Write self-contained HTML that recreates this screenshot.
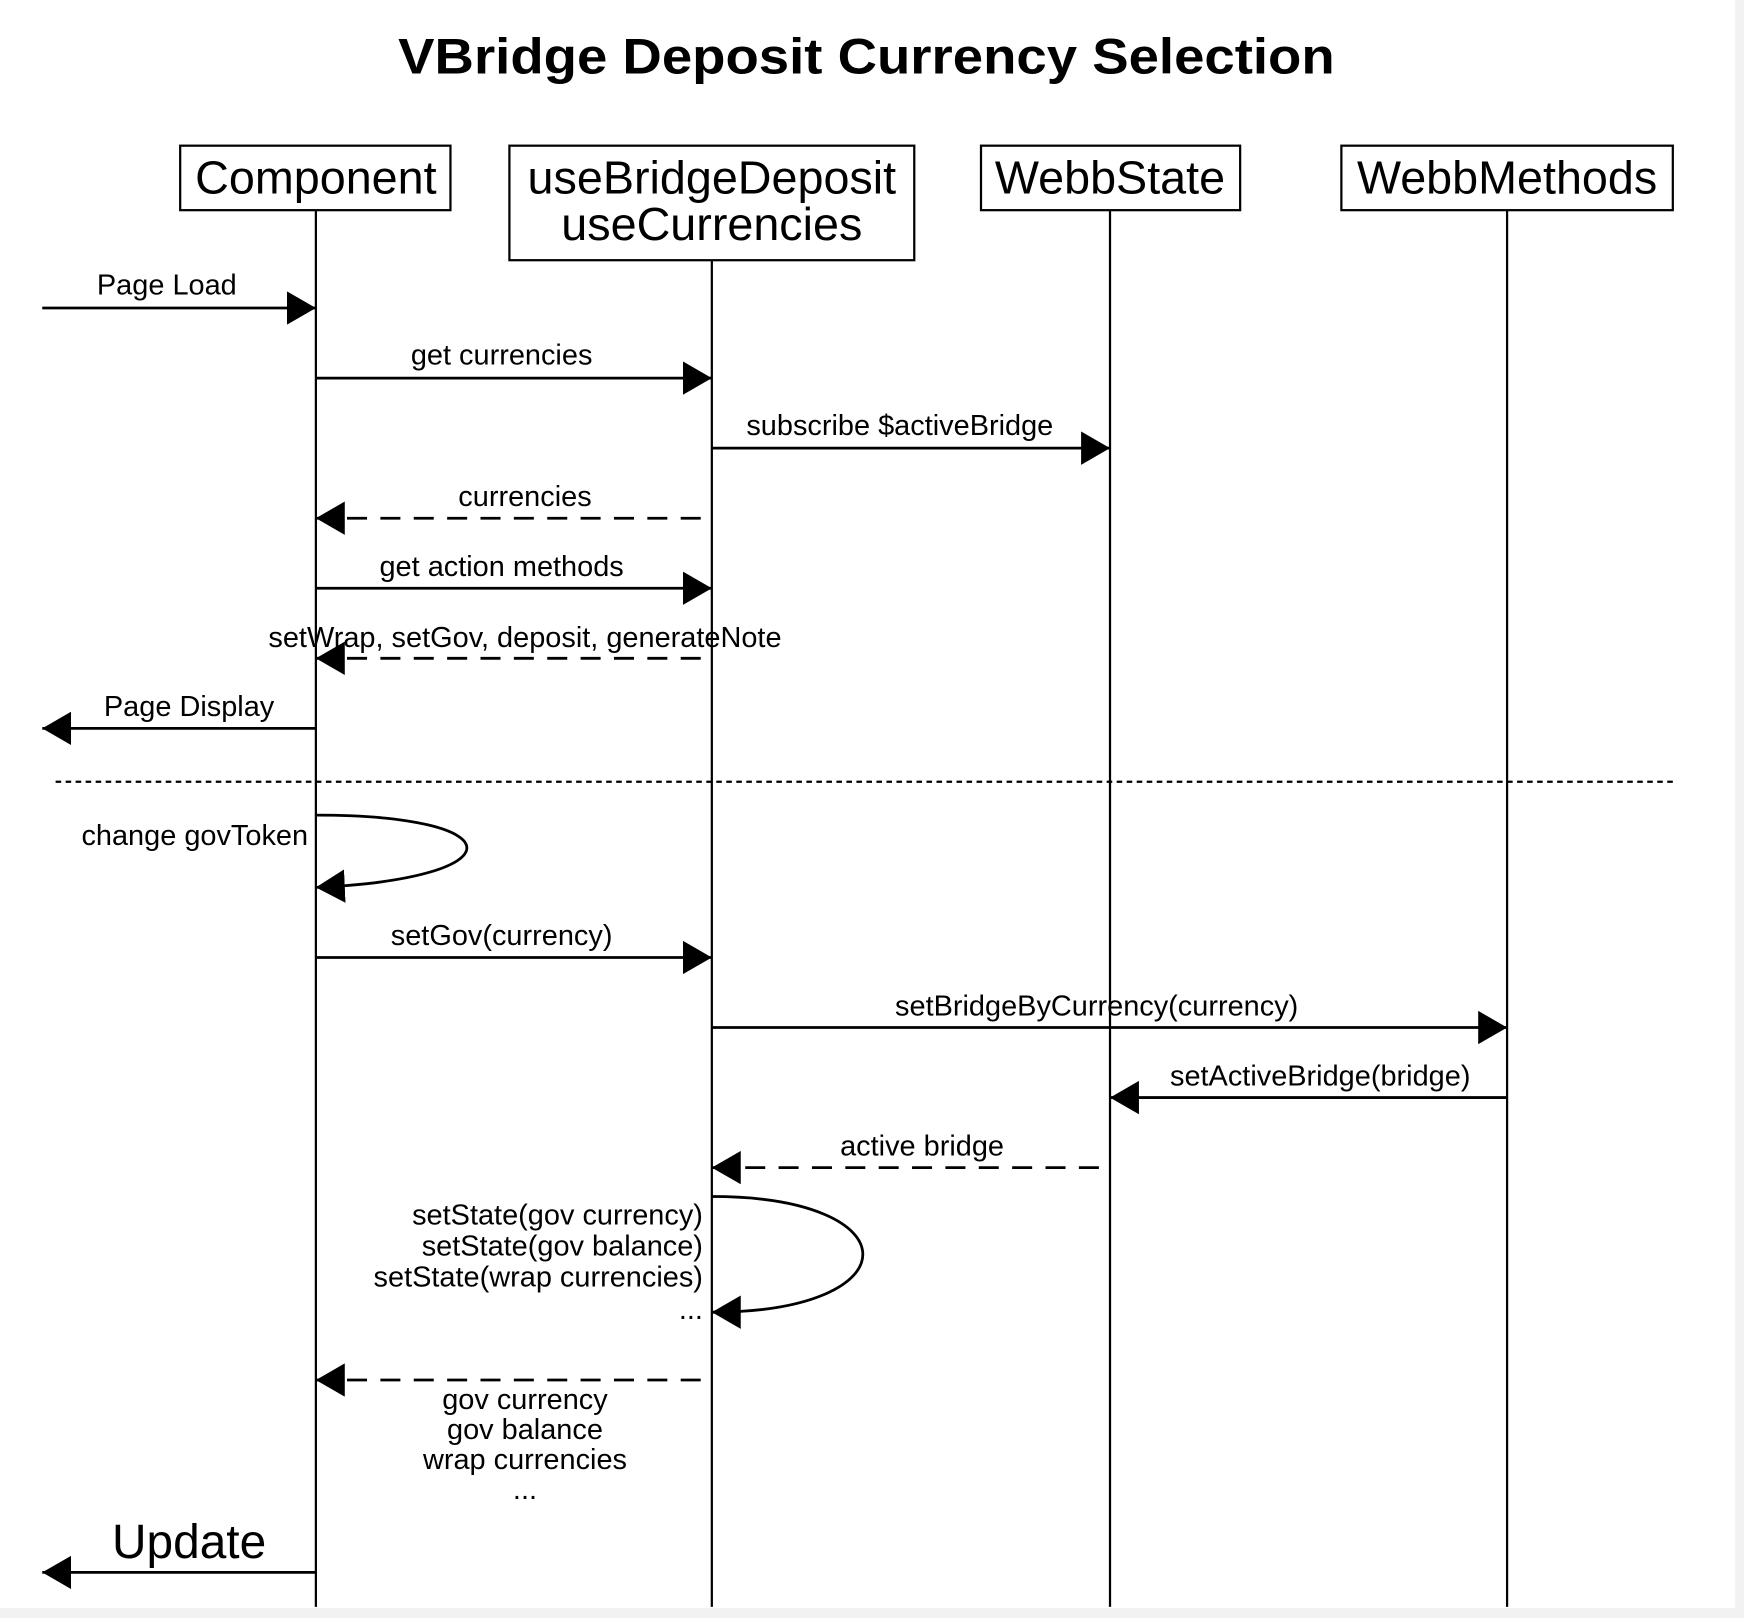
<!DOCTYPE html>
<html><head><meta charset="utf-8"><style>
html,body{margin:0;padding:0;background:#fff;}
svg{display:block;}
text{font-family:"Liberation Sans",Arial,sans-serif;fill:#000;}
</style></head><body>
<svg width="1744" height="1618" viewBox="0 0 1568 1455" preserveAspectRatio="none" xmlns="http://www.w3.org/2000/svg">
<defs>
<marker id="a" markerWidth="26" markerHeight="30" refX="26" refY="15" orient="auto" markerUnits="userSpaceOnUse">
<path d="M0,0 L26,15 L0,30 Z" fill="#000"/></marker>
</defs>
<rect x="0" y="0" width="1568" height="1455" fill="#fff"/>
<rect x="1560" y="0" width="8" height="1455" fill="#f2f2f2"/>
<rect x="0" y="1446" width="1568" height="9" fill="#f2f2f2"/>
<text x="358" y="66" font-size="45" font-weight="bold" textLength="842" lengthAdjust="spacingAndGlyphs">VBridge Deposit Currency Selection</text>
<g stroke="#000" stroke-width="2" fill="none">
<line x1="284" y1="189" x2="284" y2="1445"/>
<line x1="640" y1="234" x2="640" y2="1445"/>
<line x1="998" y1="189" x2="998" y2="1445"/>
<line x1="1355" y1="189" x2="1355" y2="1445"/>
<rect x="162" y="131" width="243" height="58" fill="#fff"/>
<rect x="458" y="131" width="364" height="103" fill="#fff"/>
<rect x="882" y="131" width="233" height="58" fill="#fff"/>
<rect x="1206" y="131" width="298" height="58" fill="#fff"/>
</g>
<g font-size="42" text-anchor="middle">
<text x="284" y="174">Component</text>
<text x="640" y="174">useBridgeDeposit</text>
<text x="640" y="216">useCurrencies</text>
<text x="998" y="174">WebbState</text>
<text x="1355" y="174">WebbMethods</text>
</g>
<g stroke="#000" stroke-width="2.5" fill="none" marker-end="url(#a)">
<line x1="38" y1="277" x2="284" y2="277"/>
<line x1="284" y1="340" x2="640" y2="340"/>
<line x1="640" y1="403" x2="998" y2="403"/>
<line x1="630" y1="466" x2="284" y2="466" stroke-dasharray="18,12"/>
<line x1="284" y1="529" x2="640" y2="529"/>
<line x1="630" y1="592" x2="284" y2="592" stroke-dasharray="18,12"/>
<line x1="284" y1="655" x2="38" y2="655"/>
<path d="M284,733 C465,733 465,790 284,798"/>
<line x1="284" y1="861" x2="640" y2="861"/>
<line x1="640" y1="924" x2="1355" y2="924"/>
<line x1="1355" y1="987" x2="998" y2="987"/>
<line x1="988" y1="1050" x2="640" y2="1050" stroke-dasharray="18,12"/>
<path d="M640,1076 C821,1076 821,1180 640,1180"/>
<line x1="630" y1="1241" x2="284" y2="1241" stroke-dasharray="18,12"/>
<line x1="284" y1="1414" x2="38" y2="1414"/>
</g>
<line x1="50" y1="703" x2="1505" y2="703" stroke="#000" stroke-width="2" stroke-dasharray="5,4"/>
<g font-size="26" text-anchor="middle">
<text x="150" y="265">Page Load</text>
<text x="451" y="328">get currencies</text>
<text x="809" y="391">subscribe $activeBridge</text>
<text x="472" y="455">currencies</text>
<text x="451" y="518">get action methods</text>
<text x="472" y="582">setWrap, setGov, deposit, generateNote</text>
<text x="170" y="644">Page Display</text>
<text x="451" y="850">setGov(currency)</text>
<text x="986" y="913">setBridgeByCurrency(currency)</text>
<text x="1187" y="976">setActiveBridge(bridge)</text>
<text x="829" y="1039">active bridge</text>
<text x="472" y="1267">gov currency</text>
<text x="472" y="1294">gov balance</text>
<text x="472" y="1321">wrap currencies</text>
<text x="472" y="1348">...</text>
<text x="170" y="1401" font-size="43">Update</text>
</g>
<g font-size="26" text-anchor="end">
<text x="277" y="760">change govToken</text>
<text x="632" y="1101">setState(gov currency)</text>
<text x="632" y="1129">setState(gov balance)</text>
<text x="632" y="1157">setState(wrap currencies)</text>
<text x="632" y="1186">...</text>
</g>
</svg>
</body></html>
